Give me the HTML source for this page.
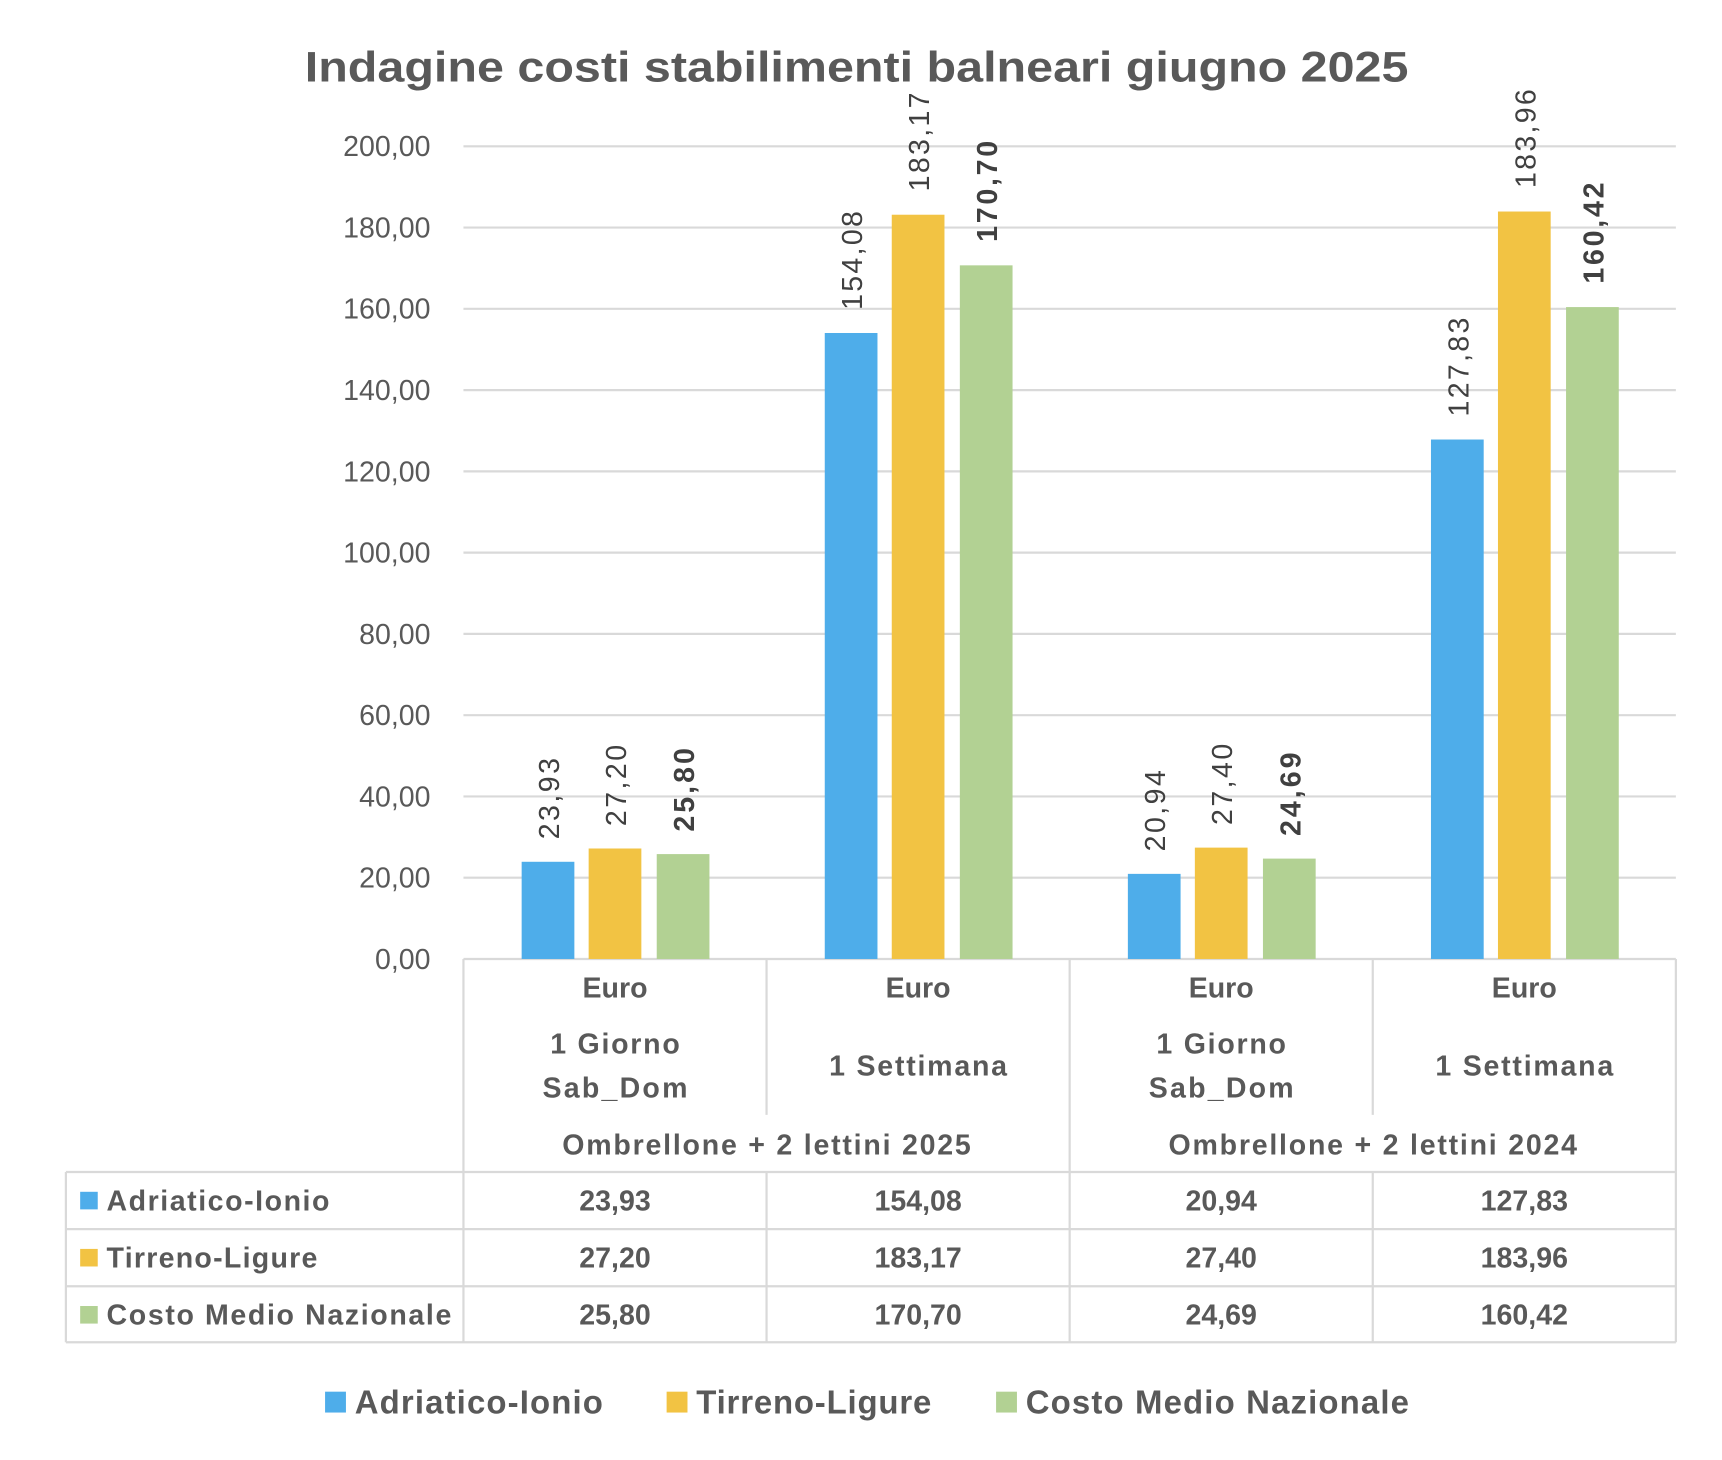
<!DOCTYPE html>
<html><head><meta charset="utf-8"><style>
html,body{margin:0;padding:0;background:#fff;}
svg{display:block;font-family:"Liberation Sans",sans-serif;}
</style></head><body>
<svg width="1722" height="1460" viewBox="0 0 1568 1329" xmlns="http://www.w3.org/2000/svg">
<rect x="0" y="0" width="1568" height="1329" fill="#fff"/>
<text x="780" y="74" text-anchor="middle" font-size="39" font-weight="bold" fill="#595959" textLength="1005" lengthAdjust="spacingAndGlyphs">Indagine costi stabilimenti balneari giugno 2025</text>
<g stroke="#d9d9d9" stroke-width="2">
<line x1="422" y1="133" x2="1526" y2="133"/><line x1="422" y1="207" x2="1526" y2="207"/>
<line x1="422" y1="281" x2="1526" y2="281"/><line x1="422" y1="355" x2="1526" y2="355"/>
<line x1="422" y1="429" x2="1526" y2="429"/><line x1="422" y1="503" x2="1526" y2="503"/>
<line x1="422" y1="577" x2="1526" y2="577"/><line x1="422" y1="651" x2="1526" y2="651"/>
<line x1="422" y1="725" x2="1526" y2="725"/><line x1="422" y1="799" x2="1526" y2="799"/>
<line x1="422" y1="873" x2="1526" y2="873"/>
</g>
<g font-size="26" fill="#595959" text-anchor="end">
<text x="392" y="142">200,00</text><text x="392" y="216">180,00</text><text x="392" y="290">160,00</text>
<text x="392" y="364">140,00</text><text x="392" y="438">120,00</text><text x="392" y="512">100,00</text>
<text x="392" y="586">80,00</text><text x="392" y="660">60,00</text><text x="392" y="734">40,00</text>
<text x="392" y="808">20,00</text><text x="392" y="882">0,00</text>
</g>
<g>
<rect x="475" y="784.5" width="48" height="88.5" fill="#4eadea"/>
<rect x="536" y="772.4" width="48" height="100.6" fill="#f2c343"/>
<rect x="598" y="777.5" width="48" height="95.5" fill="#b2d193"/>
<rect x="751" y="303" width="48" height="570" fill="#4eadea"/>
<rect x="812" y="195.3" width="48" height="677.7" fill="#f2c343"/>
<rect x="874" y="241.4" width="48" height="631.6" fill="#b2d193"/>
<rect x="1027" y="795.5" width="48" height="77.5" fill="#4eadea"/>
<rect x="1088" y="771.6" width="48" height="101.4" fill="#f2c343"/>
<rect x="1150" y="781.6" width="48" height="91.4" fill="#b2d193"/>
<rect x="1303" y="400" width="48" height="473" fill="#4eadea"/>
<rect x="1364" y="192.4" width="48" height="680.6" fill="#f2c343"/>
<rect x="1426" y="279.4" width="48" height="593.6" fill="#b2d193"/>
</g>
<g font-size="26" fill="#404040" lengthAdjust="spacingAndGlyphs">
<text transform="translate(509,764) rotate(-90)" textLength="74">23,93</text>
<text transform="translate(570,752) rotate(-90)" textLength="74">27,20</text>
<text transform="translate(632,757) rotate(-90)" font-weight="bold" textLength="76">25,80</text>
<text transform="translate(785,282) rotate(-90)" textLength="90">154,08</text>
<text transform="translate(846,174) rotate(-90)" textLength="90">183,17</text>
<text transform="translate(908,220) rotate(-90)" font-weight="bold" textLength="92">170,70</text>
<text transform="translate(1061,775) rotate(-90)" textLength="74">20,94</text>
<text transform="translate(1122,751) rotate(-90)" textLength="74">27,40</text>
<text transform="translate(1184,761) rotate(-90)" font-weight="bold" textLength="76">24,69</text>
<text transform="translate(1337,379) rotate(-90)" textLength="90">127,83</text>
<text transform="translate(1398,171) rotate(-90)" textLength="90">183,96</text>
<text transform="translate(1460,258) rotate(-90)" font-weight="bold" textLength="92">160,42</text>
</g>
<g stroke="#d9d9d9" stroke-width="2">
<line x1="422" y1="873" x2="422" y2="1222"/><line x1="974" y1="873" x2="974" y2="1222"/>
<line x1="1526" y1="873" x2="1526" y2="1222"/>
<line x1="698" y1="873" x2="698" y2="1015"/><line x1="1250" y1="873" x2="1250" y2="1015"/>
<line x1="698" y1="1067" x2="698" y2="1222"/><line x1="1250" y1="1067" x2="1250" y2="1222"/>
<line x1="60" y1="1067" x2="1526" y2="1067"/><line x1="60" y1="1119" x2="1526" y2="1119"/>
<line x1="60" y1="1171" x2="1526" y2="1171"/><line x1="60" y1="1222" x2="1526" y2="1222"/>
<line x1="60" y1="1067" x2="60" y2="1222"/>
</g>
<g font-size="26" font-weight="bold" fill="#595959" text-anchor="middle" lengthAdjust="spacingAndGlyphs">
<text x="560" y="908">Euro</text><text x="836" y="908">Euro</text><text x="1112" y="908">Euro</text><text x="1388" y="908">Euro</text>
<text x="560" y="959" textLength="118">1 Giorno</text><text x="560" y="999" textLength="132">Sab_Dom</text>
<text x="1112" y="959" textLength="118">1 Giorno</text><text x="1112" y="999" textLength="132">Sab_Dom</text>
<text x="836" y="979" textLength="162">1 Settimana</text><text x="1388" y="979" textLength="162">1 Settimana</text>
<text x="698" y="1051" textLength="372">Ombrellone + 2 lettini 2025</text><text x="1250" y="1051" textLength="372">Ombrellone + 2 lettini 2024</text>
<text x="560" y="1102">23,93</text><text x="836" y="1102">154,08</text><text x="1112" y="1102">20,94</text><text x="1388" y="1102">127,83</text>
<text x="560" y="1154">27,20</text><text x="836" y="1154">183,17</text><text x="1112" y="1154">27,40</text><text x="1388" y="1154">183,96</text>
<text x="560" y="1206">25,80</text><text x="836" y="1206">170,70</text><text x="1112" y="1206">24,69</text><text x="1388" y="1206">160,42</text>
</g>
<g font-size="26" font-weight="bold" fill="#595959" lengthAdjust="spacingAndGlyphs">
<rect x="73" y="1085" width="16" height="16" fill="#4eadea"/><text x="97" y="1102" textLength="203">Adriatico-Ionio</text>
<rect x="73" y="1137" width="16" height="16" fill="#f2c343"/><text x="97" y="1154" textLength="192">Tirreno-Ligure</text>
<rect x="73" y="1189" width="16" height="16" fill="#b2d193"/><text x="97" y="1206" textLength="314">Costo Medio Nazionale</text>
</g>
<g font-size="30" font-weight="bold" fill="#595959" lengthAdjust="spacingAndGlyphs">
<rect x="296" y="1267" width="19" height="19" fill="#4eadea"/><text x="323" y="1287" textLength="226">Adriatico-Ionio</text>
<rect x="607" y="1267" width="19" height="19" fill="#f2c343"/><text x="634" y="1287" textLength="214">Tirreno-Ligure</text>
<rect x="907" y="1267" width="19" height="19" fill="#b2d193"/><text x="934" y="1287" textLength="349">Costo Medio Nazionale</text>
</g>
</svg>
</body></html>
